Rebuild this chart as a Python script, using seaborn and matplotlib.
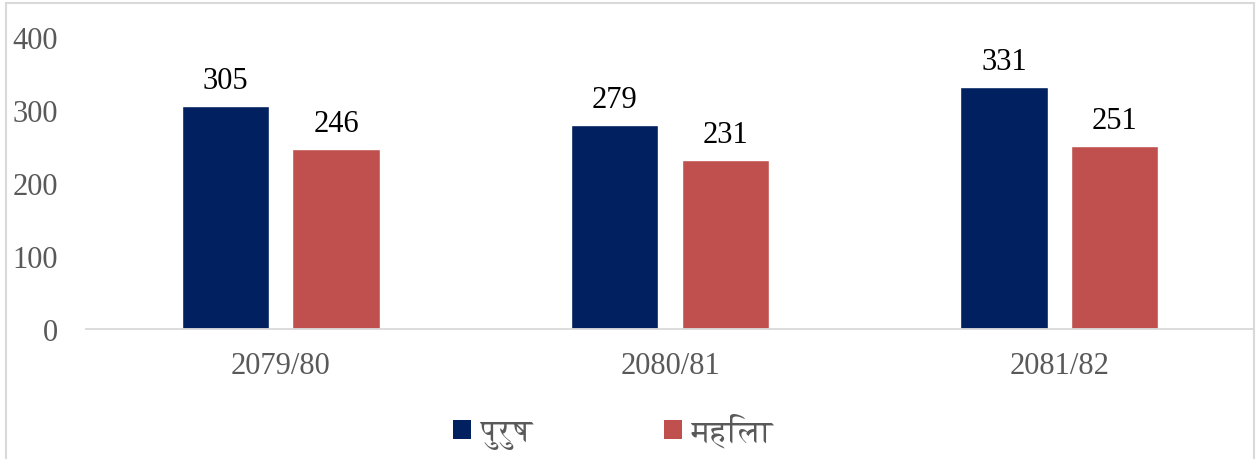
import matplotlib
matplotlib.use("Agg")
import matplotlib.pyplot as plt
import seaborn as sns
import pandas as pd
from matplotlib.patches import Patch, Rectangle
from matplotlib import font_manager
from matplotlib.ft2font import FT2Font

years = ["2079/80", "2080/81", "2081/82"]
series = ["पुरुष", "महिला"]
male = [305, 279, 331]
female = [246, 231, 251]
colors = ["#002060", "#C0504D"]
yticks = [0, 100, 200, 300, 400]

df = pd.DataFrame({
    "year": years * 2,
    "sex": [series[0]] * 3 + [series[1]] * 3,
    "value": male + female,
})

sns.set_theme(style="white")
plt.rcParams["font.family"] = ["Liberation Serif", "DejaVu Serif"]

# find a font that covers Devanagari (prefer FreeSerif / FreeSans)
dev_fonts = []
for fe in font_manager.fontManager.ttflist:
    try:
        cm = FT2Font(fe.fname).get_charmap()
        if 0x092A in cm and 0x0941 in cm and 0x0937 in cm:
            dev_fonts.append(fe.name)
    except Exception:
        pass
dev_font = None
for pref in ["FreeSerif", "FreeSans"]:
    if pref in dev_fonts:
        dev_font = pref
        break
if dev_font is None:
    others = [n for n in dev_fonts if not n.startswith("Unifont")]
    dev_font = others[0] if others else (dev_fonts[0] if dev_fonts else None)
legend_family = [dev_font, "Liberation Serif"] if dev_font else ["Liberation Serif"]

fig = plt.figure(figsize=(12.58, 4.60), dpi=100)
ax = fig.add_axes([86 / 1258, 1 - 330 / 460, (1254 - 86) / 1258, (330 - 38) / 460])

sns.barplot(data=df, x="year", y="value", hue="sex", palette=colors,
            width=0.568, gap=0.21, ax=ax, legend=False, saturation=1)

for cont in ax.containers:
    ax.bar_label(cont, padding=8, fontsize=22, color="black")

ax.set_ylim(0, 400)
ax.set_xlim(-0.5, 2.5)
ax.set_yticks(yticks)
ax.set_yticklabels([str(v) for v in yticks])
ax.set_xlabel("")
ax.set_ylabel("")
ax.tick_params(axis="y", length=0, pad=20, labelsize=22, labelcolor="#595959")
ax.tick_params(axis="x", length=0, pad=16, labelsize=22, labelcolor="#595959")
for s in ["top", "right", "left"]:
    ax.spines[s].set_visible(False)
ax.spines["bottom"].set_color("#D9D9D9")
ax.spines["bottom"].set_linewidth(1.3)
ax.grid(False)

# outer chart border
fig.patches.append(Rectangle((6 / 1258, -0.2), (1254 - 6) / 1258, 1.2 - 4 / 460,
                             transform=fig.transFigure, fill=False,
                             edgecolor="#D9D9D9", linewidth=1.5))

handles = [Patch(facecolor=c, edgecolor="none", label=l) for c, l in zip(colors, series)]
leg = fig.legend(handles=handles, loc="center", bbox_to_anchor=(613 / 1258, 1 - 432 / 460),
                 ncol=2, frameon=False, handlelength=0.6, handleheight=0.6,
                 handletextpad=0.3, columnspacing=4.3,
                 prop={"family": legend_family, "size": 22})
for t in leg.get_texts():
    t.set_color("#595959")

fig.savefig("out.png", dpi=100)
